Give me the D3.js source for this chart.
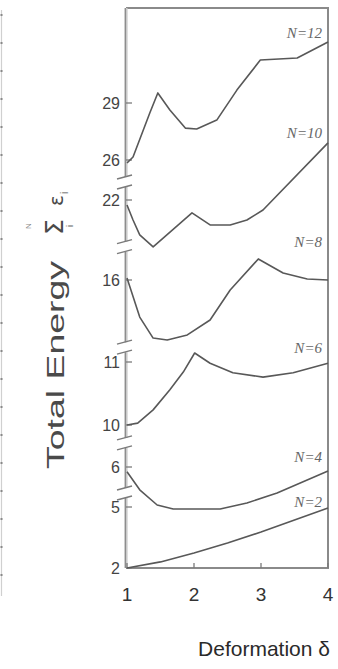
<!DOCTYPE html>
<html><head><meta charset="utf-8">
<script src="https://cdn.jsdelivr.net/npm/d3@7"></script>
<style>html,body{margin:0;padding:0;background:#fff;}svg{display:block;}</style>
</head><body>
<svg id="c" width="338" height="669"></svg>
<script>
// ---- data ----
const deltaTicks = [1, 2, 3, 4];
const energyTicks = [2, 5, 6, 10, 11, 16, 22, 26, 29];
const axisBreaks = [5.35, 8.3, 11.9, 18.5, 23.8];

const n2Delta  = [1, 1.5, 2, 2.5, 3, 3.5, 4];
const n2Energy = [2, 2.3, 2.74, 3.23, 3.77, 4.36, 4.95];

const n4Delta  = [1, 1.19, 1.45, 1.69, 2.39, 2.79, 3.24, 4];
const n4Energy = [5.88, 5.43, 5.05, 4.9, 4.9, 5.1, 5.35, 5.9];

const n6Delta  = [1, 1.16, 1.39, 1.64, 1.84, 2.01, 2.24, 2.58, 3.03, 3.48, 4];
const n6Energy = [10, 10.03, 10.24, 10.56, 10.84, 11.55, 10.98, 10.83, 10.76, 10.83, 10.98];

const n8Delta  = [1, 1.19, 1.39, 1.6, 1.9, 2.24, 2.54, 2.96, 3.33, 3.69, 4];
const n8Energy = [16.15, 13.74, 12.46, 12.34, 12.65, 13.56, 15.39, 17.58, 16.53, 16.08, 16.0];

const n10Delta  = [1, 1.09, 1.19, 1.39, 1.97, 2.24, 2.54, 2.79, 3.03, 4];
const n10Energy = [21.63, 20.5, 19.38, 18.48, 21.03, 20.13, 20.13, 20.5, 21.25, 26.9];

const n12Delta  = [1, 1.09, 1.34, 1.46, 1.64, 1.87, 2.04, 2.34, 2.64, 2.99, 3.54, 4];
const n12Energy = [25.7, 26.16, 28.47, 29.53, 28.63, 27.68, 27.63, 28.1, 29.68, 31.26, 31.37, 32.21];

const seriesNames = ["N=2", "N=4", "N=6", "N=8", "N=10", "N=12"];

// ---- drawing ----
const svg = d3.select("#c");
const x = d3.scaleLinear().domain([1, 4]).range([127, 328]);
// broken (piecewise) energy axis
const y = d3.scaleLinear().domain(energyTicks)
  .range([568, 507, 467, 425, 362, 280, 200, 160, 103]);

const series = [
  [n2Delta, n2Energy], [n4Delta, n4Energy], [n6Delta, n6Energy],
  [n8Delta, n8Energy], [n10Delta, n10Energy], [n12Delta, n12Energy]
];

// faint neighbouring frame edge at far left
svg.append("line").attr("x1", 1.5).attr("x2", 1.5).attr("y1", 10).attr("y2", 596)
  .attr("stroke", "#d0d0d0").attr("stroke-width", 1.2);
svg.append("line").attr("x1", 1.5).attr("x2", 1.5).attr("y1", 14).attr("y2", 596)
  .attr("stroke", "#888").attr("stroke-width", 2).attr("stroke-dasharray", "2,26");

const fTop = 8, fBottom = y(2), fLeft = x(1) - 1, fRight = x(4);

// frame: top, right, bottom
svg.append("path")
  .attr("d", `M${fLeft},${fTop}H${fRight}V${fBottom}H${fLeft}`)
  .attr("fill", "none").attr("stroke", "#8a8a8a").attr("stroke-width", 2);

// left axis with breaks
const bpx = axisBreaks.map(v => y(v)).sort((a, b) => b - a);
let segs = [];
let s0 = fBottom;
bpx.forEach(p => { segs.push([s0, p + 5]); s0 = p - 5; });
segs.push([s0, fTop]);
const gAx = svg.append("g");
segs.forEach(s => {
  gAx.append("line").attr("x1", fLeft).attr("x2", fLeft).attr("y1", s[0]).attr("y2", s[1])
    .attr("stroke", "#c9c9c9").attr("stroke-width", 3.2);
  gAx.append("line").attr("x1", fLeft - 0.6).attr("x2", fLeft - 0.6).attr("y1", s[0]).attr("y2", s[1])
    .attr("stroke", "#8d8d8d").attr("stroke-width", 1.2);
});
bpx.forEach(p => {
  [p + 5, p - 5].forEach(q => {
    gAx.append("line").attr("x1", fLeft - 9).attr("y1", q + 2).attr("x2", fLeft + 6).attr("y2", q - 2)
      .attr("stroke", "#7a7a7a").attr("stroke-width", 1.3);
  });
});

// y ticks
energyTicks.forEach(t => {
  svg.append("line").attr("x1", fLeft).attr("x2", fLeft + 6).attr("y1", y(t)).attr("y2", y(t))
    .attr("stroke", "#7a7a7a").attr("stroke-width", 1.3);
  svg.append("text").attr("x", 120).attr("y", y(t)).attr("dy", "0.36em")
    .attr("text-anchor", "end").attr("font-family", "Liberation Sans, Arial, sans-serif")
    .attr("font-size", 16).attr("fill", "#444").text(t);
});

// x ticks
deltaTicks.forEach(t => {
  svg.append("line").attr("x1", x(t)).attr("x2", x(t)).attr("y1", fBottom).attr("y2", fBottom - 5)
    .attr("stroke", "#7a7a7a").attr("stroke-width", 1.3);
  svg.append("text").attr("x", x(t)).attr("y", fBottom + 33)
    .attr("text-anchor", "middle").attr("font-family", "Liberation Sans, Arial, sans-serif")
    .attr("font-size", 19).attr("fill", "#333").text(t);
});

// curves
const line = d3.line().x(d => x(d[0])).y(d => y(d[1]));
series.forEach(([dx, de]) => {
  svg.append("path").datum(dx.map((v, i) => [v, de[i]]))
    .attr("d", line).attr("fill", "none").attr("stroke", "#585858")
    .attr("stroke-width", 1.6).attr("stroke-linejoin", "round");
});

// curve labels
const labelY = [507, 462, 353, 247, 138, 38];
seriesNames.forEach((n, i) => {
  const m = n.match(/^N=(\d+)$/);
  const t = svg.append("text").attr("x", 322).attr("y", labelY[i])
    .attr("text-anchor", "end").attr("font-family", "Liberation Serif, Times New Roman, serif")
    .attr("font-style", "italic").attr("font-size", 15).attr("fill", "#666");
  t.append("tspan").text("N");
  t.append("tspan").text("=" + m[1]);
});

// axis titles
svg.append("text").attr("x", 264).attr("y", 656).attr("text-anchor", "middle")
  .attr("font-family", "Liberation Sans, Arial, sans-serif").attr("font-size", 21)
  .attr("fill", "#2a2a2a").text("Deformation δ");

const yg = svg.append("g").attr("transform", "translate(64,469) rotate(-90)")
  .attr("font-family", "Liberation Sans, Arial, sans-serif").attr("fill", "#4a4a4a");
yg.append("text").attr("x", 0).attr("y", 0).attr("font-size", 23)
  .attr("textLength", 208).attr("lengthAdjust", "spacingAndGlyphs").text("Total Energy");
yg.append("text").attr("x", 234).attr("y", -1).attr("font-size", 25)
  .attr("font-family", "DejaVu Sans, sans-serif").text("Σ");
yg.append("text").attr("x", 240).attr("y", -33).attr("font-size", 8).attr("fill", "#888").text("N");
yg.append("text").attr("x", 242).attr("y", 9).attr("font-size", 9).attr("fill", "#666").text("i");
yg.append("text").attr("x", 263).attr("y", -1).attr("font-size", 20)
  .attr("font-family", "DejaVu Sans, sans-serif").text("ε");
yg.append("text").attr("x", 275).attr("y", 4).attr("font-size", 10).text("i");
</script>
</body></html>
